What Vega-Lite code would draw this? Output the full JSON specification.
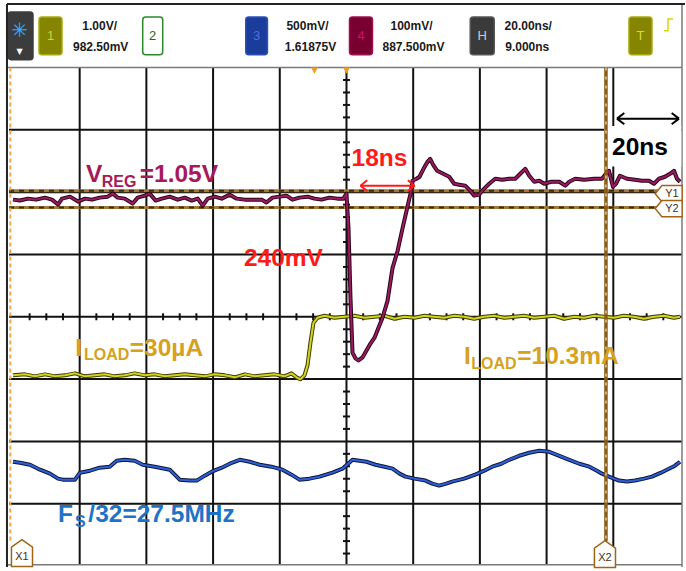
{
  "$schema": "https://vega.github.io/schema/vega-lite/v6.json",
  "width": 686,
  "height": 571,
  "autosize": {"type": "fit", "contains": "padding"},
  "padding": 0,
  "background": "white",
  "config": {"view": {"stroke": null}, "font": "Liberation Sans"},
  "datasets": {
    "ch4": [
      {"t": -100.0, "v": 1.880}, {"t": -97.9, "v": 1.865}, {"t": -95.5, "v": 1.896}, {"t": -93.1, "v": 1.880},
      {"t": -90.4, "v": 1.912}, {"t": -88.3, "v": 1.880}, {"t": -86.5, "v": 1.801}, {"t": -85.3, "v": 1.896},
      {"t": -82.9, "v": 1.928}, {"t": -80.5, "v": 1.849}, {"t": -78.4, "v": 1.896}, {"t": -76.3, "v": 1.880},
      {"t": -74.0, "v": 1.912}, {"t": -71.6, "v": 1.928}, {"t": -70.1, "v": 1.976}, {"t": -68.6, "v": 1.912},
      {"t": -66.5, "v": 1.896}, {"t": -64.1, "v": 1.817}, {"t": -62.6, "v": 1.912}, {"t": -60.5, "v": 1.944},
      {"t": -59.0, "v": 1.976}, {"t": -57.2, "v": 1.865}, {"t": -55.4, "v": 1.896}, {"t": -53.0, "v": 1.928},
      {"t": -50.6, "v": 1.880}, {"t": -48.5, "v": 1.912}, {"t": -46.4, "v": 1.865}, {"t": -44.6, "v": 1.896},
      {"t": -43.1, "v": 1.785}, {"t": -41.6, "v": 1.896}, {"t": -39.5, "v": 1.928}, {"t": -37.4, "v": 1.896},
      {"t": -35.0, "v": 1.960}, {"t": -32.9, "v": 1.896}, {"t": -30.5, "v": 1.880}, {"t": -27.5, "v": 1.880},
      {"t": -25.4, "v": 1.880}, {"t": -24.0, "v": 1.833}, {"t": -22.2, "v": 1.912}, {"t": -20.1, "v": 1.928},
      {"t": -18.0, "v": 1.944}, {"t": -16.2, "v": 1.880}, {"t": -14.1, "v": 1.912}, {"t": -11.7, "v": 1.928},
      {"t": -9.6, "v": 1.896}, {"t": -7.5, "v": 1.880}, {"t": -5.1, "v": 1.912}, {"t": -2.7, "v": 1.896},
      {"t": -0.9, "v": 1.896}, {"t": 0.0, "v": 1.976}, {"t": 0.6, "v": 1.418}, {"t": 1.2, "v": 0.303},
      {"t": 1.8, "v": -0.574}, {"t": 2.7, "v": -0.669}, {"t": 3.6, "v": -0.701}, {"t": 4.8, "v": -0.653},
      {"t": 6.0, "v": -0.542}, {"t": 7.2, "v": -0.430}, {"t": 8.4, "v": -0.335}, {"t": 9.6, "v": -0.175},
      {"t": 10.8, "v": -0.016}, {"t": 12.3, "v": 0.255}, {"t": 13.8, "v": 0.781}, {"t": 15.3, "v": 1.052},
      {"t": 16.8, "v": 1.418}, {"t": 18.3, "v": 1.769}, {"t": 19.2, "v": 1.976}, {"t": 19.8, "v": 2.183},
      {"t": 21.0, "v": 2.215}, {"t": 21.9, "v": 2.247}, {"t": 23.1, "v": 2.375}, {"t": 24.3, "v": 2.486},
      {"t": 25.1, "v": 2.534}, {"t": 26.0, "v": 2.438}, {"t": 27.2, "v": 2.343}, {"t": 29.0, "v": 2.295},
      {"t": 30.8, "v": 2.247}, {"t": 32.3, "v": 2.135}, {"t": 33.8, "v": 2.120}, {"t": 35.6, "v": 2.104},
      {"t": 37.1, "v": 2.024}, {"t": 38.3, "v": 1.944}, {"t": 39.8, "v": 1.960}, {"t": 40.7, "v": 2.024},
      {"t": 41.9, "v": 2.088}, {"t": 42.8, "v": 2.135}, {"t": 44.6, "v": 2.215}, {"t": 46.7, "v": 2.199},
      {"t": 48.8, "v": 2.215}, {"t": 50.6, "v": 2.215}, {"t": 52.1, "v": 2.295}, {"t": 53.6, "v": 2.375},
      {"t": 54.8, "v": 2.263}, {"t": 56.3, "v": 2.167}, {"t": 57.8, "v": 2.183}, {"t": 59.3, "v": 2.135},
      {"t": 61.4, "v": 2.167}, {"t": 63.8, "v": 2.167}, {"t": 65.6, "v": 2.104}, {"t": 66.8, "v": 2.167},
      {"t": 68.6, "v": 2.215}, {"t": 71.3, "v": 2.199}, {"t": 74.3, "v": 2.215}, {"t": 76.6, "v": 2.215},
      {"t": 77.8, "v": 2.295}, {"t": 78.7, "v": 2.343}, {"t": 79.9, "v": 2.088}, {"t": 80.8, "v": 2.135},
      {"t": 82.0, "v": 2.263}, {"t": 84.1, "v": 2.215}, {"t": 86.5, "v": 2.199}, {"t": 88.6, "v": 2.183},
      {"t": 90.7, "v": 2.183}, {"t": 92.2, "v": 2.135}, {"t": 93.7, "v": 2.215}, {"t": 95.5, "v": 2.247},
      {"t": 97.0, "v": 2.295}, {"t": 98.2, "v": 2.343}, {"t": 99.1, "v": 2.215}, {"t": 100.0, "v": 2.167}
    ],
    "ch1": [
      {"t": -100.0, "v": -0.940}, {"t": -96.4, "v": -0.924}, {"t": -93.4, "v": -0.956}, {"t": -90.4, "v": -0.924},
      {"t": -87.4, "v": -0.956}, {"t": -84.4, "v": -0.940}, {"t": -81.4, "v": -0.908}, {"t": -78.4, "v": -0.956},
      {"t": -75.4, "v": -0.940}, {"t": -72.5, "v": -0.924}, {"t": -69.5, "v": -0.956}, {"t": -66.5, "v": -0.940},
      {"t": -63.5, "v": -0.908}, {"t": -60.5, "v": -0.940}, {"t": -57.5, "v": -0.924}, {"t": -54.5, "v": -0.956},
      {"t": -51.5, "v": -0.940}, {"t": -48.5, "v": -0.924}, {"t": -45.5, "v": -0.940}, {"t": -42.5, "v": -0.956},
      {"t": -39.5, "v": -0.924}, {"t": -36.5, "v": -0.940}, {"t": -33.5, "v": -0.972}, {"t": -30.5, "v": -0.924},
      {"t": -27.5, "v": -0.956}, {"t": -24.6, "v": -0.940}, {"t": -21.6, "v": -0.924}, {"t": -18.6, "v": -0.956},
      {"t": -16.5, "v": -0.908}, {"t": -15.0, "v": -0.972}, {"t": -13.8, "v": -1.004}, {"t": -12.6, "v": -0.940},
      {"t": -11.7, "v": -0.781}, {"t": -10.8, "v": -0.414}, {"t": -9.9, "v": -0.096}, {"t": -8.7, "v": -0.016},
      {"t": -6.6, "v": 0.016}, {"t": -3.6, "v": -0.016}, {"t": -0.6, "v": 0}, {"t": 2.4, "v": 0.016},
      {"t": 5.4, "v": -0.016}, {"t": 8.4, "v": 0}, {"t": 11.4, "v": 0.016}, {"t": 14.4, "v": -0.032},
      {"t": 17.4, "v": 0}, {"t": 20.4, "v": -0.016}, {"t": 23.4, "v": 0.016}, {"t": 26.3, "v": 0},
      {"t": 29.3, "v": -0.016}, {"t": 32.3, "v": 0.016}, {"t": 35.3, "v": 0}, {"t": 38.3, "v": -0.032},
      {"t": 41.3, "v": 0}, {"t": 44.3, "v": 0.016}, {"t": 47.3, "v": -0.016}, {"t": 50.3, "v": 0},
      {"t": 53.3, "v": 0.016}, {"t": 56.3, "v": -0.016}, {"t": 59.3, "v": 0}, {"t": 62.3, "v": 0.016},
      {"t": 65.3, "v": -0.032}, {"t": 68.3, "v": 0}, {"t": 71.3, "v": -0.016}, {"t": 74.3, "v": 0.016},
      {"t": 77.2, "v": 0}, {"t": 80.2, "v": -0.016}, {"t": 83.2, "v": 0.016}, {"t": 86.2, "v": 0},
      {"t": 89.2, "v": -0.032}, {"t": 92.2, "v": 0}, {"t": 95.2, "v": 0.016}, {"t": 98.2, "v": -0.016},
      {"t": 100.0, "v": 0}
    ],
    "ch3": [
      {"t": -100.0, "v": -2.327}, {"t": -97.9, "v": -2.343}, {"t": -94.9, "v": -2.375}, {"t": -91.9, "v": -2.454},
      {"t": -88.9, "v": -2.518}, {"t": -86.5, "v": -2.598}, {"t": -85.0, "v": -2.614}, {"t": -81.4, "v": -2.614},
      {"t": -79.9, "v": -2.502}, {"t": -76.9, "v": -2.470}, {"t": -74.0, "v": -2.422}, {"t": -71.0, "v": -2.406},
      {"t": -68.9, "v": -2.311}, {"t": -66.5, "v": -2.295}, {"t": -63.5, "v": -2.311}, {"t": -61.1, "v": -2.375},
      {"t": -57.5, "v": -2.406}, {"t": -53.0, "v": -2.454}, {"t": -50.0, "v": -2.614}, {"t": -47.0, "v": -2.629},
      {"t": -44.9, "v": -2.629}, {"t": -42.5, "v": -2.550}, {"t": -40.4, "v": -2.486}, {"t": -37.4, "v": -2.422},
      {"t": -34.4, "v": -2.343}, {"t": -32.0, "v": -2.295}, {"t": -29.0, "v": -2.327}, {"t": -26.0, "v": -2.375},
      {"t": -22.5, "v": -2.406}, {"t": -19.2, "v": -2.454}, {"t": -16.5, "v": -2.534}, {"t": -14.1, "v": -2.614},
      {"t": -11.1, "v": -2.598}, {"t": -8.1, "v": -2.566}, {"t": -4.2, "v": -2.502}, {"t": -1.2, "v": -2.438},
      {"t": 1.8, "v": -2.295}, {"t": 3.9, "v": -2.311}, {"t": 6.0, "v": -2.327}, {"t": 8.7, "v": -2.375},
      {"t": 11.4, "v": -2.406}, {"t": 13.8, "v": -2.438}, {"t": 15.9, "v": -2.518}, {"t": 17.7, "v": -2.566},
      {"t": 20.4, "v": -2.598}, {"t": 23.7, "v": -2.629}, {"t": 25.7, "v": -2.677}, {"t": 27.8, "v": -2.709},
      {"t": 29.9, "v": -2.677}, {"t": 31.7, "v": -2.645}, {"t": 35.3, "v": -2.598}, {"t": 38.6, "v": -2.534},
      {"t": 41.3, "v": -2.470}, {"t": 43.7, "v": -2.406}, {"t": 46.4, "v": -2.359}, {"t": 48.8, "v": -2.295},
      {"t": 51.8, "v": -2.231}, {"t": 54.8, "v": -2.183}, {"t": 57.8, "v": -2.151}, {"t": 60.8, "v": -2.167},
      {"t": 63.8, "v": -2.231}, {"t": 66.8, "v": -2.295}, {"t": 69.8, "v": -2.359}, {"t": 72.8, "v": -2.406},
      {"t": 75.1, "v": -2.470}, {"t": 76.6, "v": -2.518}, {"t": 78.7, "v": -2.566}, {"t": 81.7, "v": -2.629},
      {"t": 84.1, "v": -2.645}, {"t": 86.5, "v": -2.629}, {"t": 89.2, "v": -2.598}, {"t": 91.6, "v": -2.566},
      {"t": 94.3, "v": -2.502}, {"t": 96.7, "v": -2.438}, {"t": 98.5, "v": -2.390}, {"t": 100.0, "v": -2.327}
    ]
  },
  "encoding": {
    "x": {"field": "t", "type": "quantitative", "scale": {"domain": [-103.89, 101.5], "nice": false, "zero": false}, "axis": null},
    "y": {"field": "v", "type": "quantitative", "scale": {"domain": [-4.016, 5.084], "nice": false, "zero": false}, "axis": null}
  },
  "layer": [
    {
      "data": {"values": [
        {"t": -101.5, "t2": -94.0, "v": 4.892, "v2": 4.127, "ch": "icon"},
        {"t": -92.2, "t2": -85.3, "v": 4.813, "v2": 4.207, "ch": "1"},
        {"t": -61.1, "t2": -55.1, "v": 4.813, "v2": 4.207, "ch": "2"},
        {"t": -30.2, "t2": -23.7, "v": 4.813, "v2": 4.207, "ch": "3"},
        {"t": 0.9, "t2": 7.8, "v": 4.813, "v2": 4.207, "ch": "4"},
        {"t": 37.1, "t2": 44.3, "v": 4.813, "v2": 4.207, "ch": "H"},
        {"t": 84.7, "t2": 91.6, "v": 4.813, "v2": 4.207, "ch": "T"}
      ]},
      "mark": {"type": "rect", "cornerRadius": 3, "strokeWidth": 1.5},
      "encoding": {
        "x2": {"field": "t2"},
        "y2": {"field": "v2"},
        "fill": {"field": "ch", "type": "nominal", "legend": null, "scale": {"domain": ["icon", "1", "2", "3", "4", "H", "T"], "range": ["#3c3c3c", "#858500", "#ffffff", "#1c3c9c", "#780030", "#3a3a3a", "#858500"]}},
        "stroke": {"field": "ch", "type": "nominal", "legend": null, "scale": {"domain": ["icon", "1", "2", "3", "4", "H", "T"], "range": ["#3c3c3c", "#a8a810", "#2a8a2a", "#2a50b8", "#a01050", "#555555", "#a8a810"]}}
      }
    },
    {
      "data": {"values": [
        {"t": -88.75, "v": 4.51, "label": "1"},
        {"t": -58.1, "v": 4.51, "label": "2"},
        {"t": -26.95, "v": 4.51, "label": "3"},
        {"t": 4.35, "v": 4.51, "label": "4"},
        {"t": 40.7, "v": 4.51, "label": "H"},
        {"t": 88.15, "v": 4.51, "label": "T"}
      ]},
      "mark": {"type": "text", "fontSize": 13, "align": "center", "baseline": "middle"},
      "encoding": {
        "text": {"field": "label"},
        "color": {"field": "label", "type": "nominal", "legend": null, "scale": {"domain": ["1", "2", "3", "4", "H", "T"], "range": ["#d0d040", "#1a6a1a", "#4a70e0", "#d01068", "#cccccc", "#d8d840"]}}
      }
    },
    {
      "data": {"values": [
        {"t": -74.0, "v": 4.669, "label": "1.00V/"},
        {"t": -73.7, "v": 4.335, "label": "982.50mV"},
        {"t": -11.7, "v": 4.669, "label": "500mV/"},
        {"t": -10.8, "v": 4.335, "label": "1.61875V"},
        {"t": 19.5, "v": 4.669, "label": "100mV/"},
        {"t": 20.1, "v": 4.335, "label": "887.500mV"},
        {"t": 54.5, "v": 4.669, "label": "20.00ns/"},
        {"t": 54.2, "v": 4.335, "label": "9.000ns"}
      ]},
      "mark": {"type": "text", "fontSize": 12, "fontWeight": "bold", "color": "#1a1a1a", "align": "center", "baseline": "middle"},
      "encoding": {"text": {"field": "label"}}
    },
    {
      "data": {"values": [{"t": -98.0, "v": 4.59, "label": "✳"}]},
      "mark": {"type": "text", "fontSize": 20, "color": "#3aa8ff", "align": "center", "baseline": "middle", "font": "DejaVu Sans"},
      "encoding": {"text": {"field": "label"}}
    },
    {
      "data": {"values": [{"t": -98.0, "v": 4.255, "label": "▼"}]},
      "mark": {"type": "text", "fontSize": 8, "color": "#ffffff", "align": "center", "baseline": "middle", "font": "DejaVu Sans"},
      "encoding": {"text": {"field": "label"}}
    },
    {
      "data": {"values": [
        {"t": 95.2, "v": 4.59, "o": 1}, {"t": 96.4, "v": 4.59, "o": 2},
        {"t": 96.4, "v": 4.781, "o": 3}, {"t": 97.9, "v": 4.781, "o": 4}
      ]},
      "mark": {"type": "line", "color": "#d8d800", "strokeWidth": 1.5},
      "encoding": {"order": {"field": "o"}}
    },
    {
      "data": {"values": [
        {"t": -80, "t2": -80, "v": 4, "v2": -3.98}, {"t": -60, "t2": -60, "v": 4, "v2": -3.98},
        {"t": -40, "t2": -40, "v": 4, "v2": -3.98}, {"t": -20, "t2": -20, "v": 4, "v2": -3.98},
        {"t": 0, "t2": 0, "v": 4, "v2": -3.98}, {"t": 20, "t2": 20, "v": 4, "v2": -3.98},
        {"t": 40, "t2": 40, "v": 4, "v2": -3.98}, {"t": 60, "t2": 60, "v": 4, "v2": -3.98},
        {"t": 80, "t2": 80, "v": 4, "v2": -3.98},
        {"t": -101.2, "t2": 100.6, "v": 3, "v2": 3}, {"t": -101.2, "t2": 100.6, "v": 2, "v2": 2},
        {"t": -101.2, "t2": 100.6, "v": 1, "v2": 1}, {"t": -101.2, "t2": 100.6, "v": 0, "v2": 0},
        {"t": -101.2, "t2": 100.6, "v": -1, "v2": -1}, {"t": -101.2, "t2": 100.6, "v": -2, "v2": -2},
        {"t": -101.2, "t2": 100.6, "v": -3, "v2": -3}
      ]},
      "mark": {"type": "rule", "color": "#111111", "strokeWidth": 2},
      "encoding": {"x2": {"field": "t2"}, "y2": {"field": "v2"}}
    },
    {
      "data": {"values": [
        {"t": -95, "v": 0}, {"t": -90, "v": 0}, {"t": -85, "v": 0}, {"t": -75, "v": 0}, {"t": -70, "v": 0},
        {"t": -65, "v": 0}, {"t": -55, "v": 0}, {"t": -50, "v": 0}, {"t": -45, "v": 0}, {"t": -35, "v": 0},
        {"t": -30, "v": 0}, {"t": -25, "v": 0}, {"t": -15, "v": 0}, {"t": -10, "v": 0}, {"t": -5, "v": 0},
        {"t": 5, "v": 0}, {"t": 10, "v": 0}, {"t": 15, "v": 0}, {"t": 25, "v": 0}, {"t": 30, "v": 0},
        {"t": 35, "v": 0}, {"t": 45, "v": 0}, {"t": 50, "v": 0}, {"t": 55, "v": 0}, {"t": 65, "v": 0},
        {"t": 70, "v": 0}, {"t": 75, "v": 0}, {"t": 85, "v": 0}, {"t": 90, "v": 0}, {"t": 95, "v": 0}
      ]},
      "mark": {"type": "tick", "orient": "vertical", "size": 7, "thickness": 2, "color": "#111111", "opacity": 1},
      "encoding": {}
    },
    {
      "data": {"values": [
        {"t": 0, "v": 3.8}, {"t": 0, "v": 3.6}, {"t": 0, "v": 3.4}, {"t": 0, "v": 3.2},
        {"t": 0, "v": 2.8}, {"t": 0, "v": 2.6}, {"t": 0, "v": 2.4}, {"t": 0, "v": 2.2},
        {"t": 0, "v": 1.8}, {"t": 0, "v": 1.6}, {"t": 0, "v": 1.4}, {"t": 0, "v": 1.2},
        {"t": 0, "v": 0.8}, {"t": 0, "v": 0.6}, {"t": 0, "v": 0.4}, {"t": 0, "v": 0.2},
        {"t": 0, "v": -0.2}, {"t": 0, "v": -0.4}, {"t": 0, "v": -0.6}, {"t": 0, "v": -0.8},
        {"t": 0, "v": -1.2}, {"t": 0, "v": -1.4}, {"t": 0, "v": -1.6}, {"t": 0, "v": -1.8},
        {"t": 0, "v": -2.2}, {"t": 0, "v": -2.4}, {"t": 0, "v": -2.6}, {"t": 0, "v": -2.8},
        {"t": 0, "v": -3.2}, {"t": 0, "v": -3.4}, {"t": 0, "v": -3.6}, {"t": 0, "v": -3.8}
      ]},
      "mark": {"type": "tick", "orient": "horizontal", "size": 7, "thickness": 2, "color": "#111111", "opacity": 1},
      "encoding": {}
    },
    {
      "data": {"values": [
        {"t": -101.8, "t2": 100.6, "v": 4, "v2": 4},
        {"t": -101.8, "t2": 100.6, "v": -3.98, "v2": -3.98},
        {"t": 100.6, "t2": 100.6, "v": 5.02, "v2": -4.016}
      ]},
      "mark": {"type": "rule", "color": "#7a7a7a", "strokeWidth": 1.5},
      "encoding": {"x2": {"field": "t2"}, "y2": {"field": "v2"}}
    },
    {
      "data": {"values": [
        {"t": -101.8, "t2": 101.5, "v": 5.02, "v2": 5.02},
        {"t": -101.8, "t2": -101.8, "v": 5.02, "v2": -4.016}
      ]},
      "mark": {"type": "rule", "color": "#222222", "strokeWidth": 2},
      "encoding": {"x2": {"field": "t2"}, "y2": {"field": "v2"}}
    },
    {
      "data": {"values": [
        {"t": -101.2, "t2": 93.5, "v": 2.024, "v2": 2.024},
        {"t": -101.2, "t2": 93.5, "v": 1.753, "v2": 1.753}
      ]},
      "mark": {"type": "rule", "color": "#a07838", "strokeWidth": 3},
      "encoding": {"x2": {"field": "t2"}, "y2": {"field": "v2"}}
    },
    {
      "data": {"values": [
        {"t": -101.2, "t2": 93.5, "v": 2.024, "v2": 2.024},
        {"t": -101.2, "t2": 93.5, "v": 1.753, "v2": 1.753}
      ]},
      "mark": {"type": "rule", "color": "#3a2810", "strokeWidth": 2, "strokeDash": [5, 5]},
      "encoding": {"x2": {"field": "t2"}, "y2": {"field": "v2"}}
    },
    {
      "data": {"values": [{"t": -100.8, "t2": -100.8, "v": 4, "v2": -3.6}]},
      "mark": {"type": "rule", "color": "#f0a848", "strokeWidth": 2, "strokeDash": [4, 3]},
      "encoding": {"x2": {"field": "t2"}, "y2": {"field": "v2"}}
    },
    {
      "data": {"name": "ch3"},
      "mark": {"type": "line", "color": "#0e1838", "strokeWidth": 4, "strokeJoin": "round"},
      "encoding": {}
    },
    {
      "data": {"name": "ch3"},
      "mark": {"type": "line", "color": "#2f5fd8", "strokeWidth": 2, "strokeJoin": "round"},
      "encoding": {}
    },
    {
      "data": {"name": "ch1"},
      "mark": {"type": "line", "color": "#3c3c00", "strokeWidth": 4, "strokeJoin": "round"},
      "encoding": {}
    },
    {
      "data": {"name": "ch1"},
      "mark": {"type": "line", "color": "#d4d41e", "strokeWidth": 2, "strokeJoin": "round"},
      "encoding": {}
    },
    {
      "data": {"name": "ch4"},
      "mark": {"type": "line", "color": "#2a0618", "strokeWidth": 4, "strokeJoin": "round"},
      "encoding": {}
    },
    {
      "data": {"name": "ch4"},
      "mark": {"type": "line", "color": "#9a1a62", "strokeWidth": 2, "strokeJoin": "round"},
      "encoding": {}
    },
    {
      "data": {"values": [{"t": 77.2, "t2": 100.4, "v": 3.06, "v2": 2.41}]},
      "mark": {"type": "rect", "color": "#ffffff"},
      "encoding": {"x2": {"field": "t2"}, "y2": {"field": "v2"}}
    },
    {
      "data": {"values": [{"t": 77.8, "t2": 77.8, "v": 4, "v2": -3.6}]},
      "mark": {"type": "rule", "color": "#8c5c14", "strokeWidth": 3.5},
      "encoding": {"x2": {"field": "t2"}, "y2": {"field": "v2"}}
    },
    {
      "data": {"values": [{"t": 77.8, "t2": 77.8, "v": 4, "v2": -3.6}]},
      "mark": {"type": "rule", "color": "#ffffff", "strokeWidth": 1, "strokeDash": [3, 6]},
      "encoding": {"x2": {"field": "t2"}, "y2": {"field": "v2"}}
    },
    {
      "data": {"values": [{"t": -97.3, "v": -3.793}, {"t": 77.5, "v": -3.809}]},
      "mark": {"type": "point", "shape": "M-0.78,1L-0.78,-0.45L0,-1L0.78,-0.45L0.78,1Z", "size": 729, "filled": true, "fill": "#ffffff", "stroke": "#a06418", "strokeWidth": 1.5, "opacity": 1},
      "encoding": {}
    },
    {
      "data": {"values": [{"t": 96.6, "v": 1.976}, {"t": 96.6, "v": 1.737}]},
      "mark": {"type": "point", "shape": "M-1,0L-0.5,-0.6L1,-0.6L1,0.6L-0.5,0.6Z", "size": 729, "filled": true, "fill": "#ffffff", "stroke": "#a06418", "strokeWidth": 1.5, "opacity": 1},
      "encoding": {}
    },
    {
      "data": {"values": [
        {"t": -97.3, "v": -3.857, "label": "X1"},
        {"t": 77.5, "v": -3.873, "label": "X2"},
        {"t": 97.6, "v": 1.976, "label": "Y1"},
        {"t": 97.6, "v": 1.737, "label": "Y2"}
      ]},
      "mark": {"type": "text", "fontSize": 11, "color": "#4a3010", "align": "center", "baseline": "middle"},
      "encoding": {"text": {"field": "label"}}
    },
    {
      "data": {"values": [{"t": -9.6, "v": 3.95}, {"t": 0, "v": 3.95}]},
      "mark": {"type": "point", "shape": "triangle-down", "size": 50, "filled": true, "color": "#f0a020", "opacity": 1},
      "encoding": {}
    },
    {
      "data": {"values": [
        {"t": 4.2, "t2": 20.4, "v": 2.104, "v2": 2.104},
        {"t": 4.2, "t2": 6.2, "v": 2.104, "v2": 2.19},
        {"t": 4.2, "t2": 6.2, "v": 2.104, "v2": 2.018},
        {"t": 20.4, "t2": 18.4, "v": 2.104, "v2": 2.19},
        {"t": 20.4, "t2": 18.4, "v": 2.104, "v2": 2.018}
      ]},
      "mark": {"type": "rule", "color": "#ff1a1a", "strokeWidth": 2},
      "encoding": {"x2": {"field": "t2"}, "y2": {"field": "v2"}}
    },
    {
      "data": {"values": [
        {"t": 81.1, "t2": 99.7, "v": 3.18, "v2": 3.18},
        {"t": 81.1, "t2": 83.3, "v": 3.18, "v2": 3.27},
        {"t": 81.1, "t2": 83.3, "v": 3.18, "v2": 3.09},
        {"t": 99.7, "t2": 97.5, "v": 3.18, "v2": 3.27},
        {"t": 99.7, "t2": 97.5, "v": 3.18, "v2": 3.09}
      ]},
      "mark": {"type": "rule", "color": "#000000", "strokeWidth": 2},
      "encoding": {"x2": {"field": "t2"}, "y2": {"field": "v2"}}
    },
    {
      "data": {"values": [
        {"t": -78.1, "v": 2.167, "label": "V"},
        {"t": -62.0, "v": 2.167, "label": "=1.05V"}
      ]},
      "mark": {"type": "text", "fontSize": 24.5, "fontWeight": "bold", "color": "#a8195a", "align": "left", "baseline": "alphabetic"},
      "encoding": {"text": {"field": "label"}}
    },
    {
      "data": {"values": [{"t": -73.4, "v": 2.088, "label": "REG"}]},
      "mark": {"type": "text", "fontSize": 16, "fontWeight": "bold", "color": "#a8195a", "align": "left", "baseline": "alphabetic"},
      "encoding": {"text": {"field": "label"}}
    },
    {
      "data": {"values": [
        {"t": -81.3, "v": -0.622, "label": "I"},
        {"t": -65.0, "v": -0.622, "label": "=30µA"},
        {"t": 35.2, "v": -0.765, "label": "I"},
        {"t": 51.2, "v": -0.765, "label": "=10.3mA"}
      ]},
      "mark": {"type": "text", "fontSize": 24.5, "fontWeight": "bold", "color": "#d6a21e", "align": "left", "baseline": "alphabetic"},
      "encoding": {"text": {"field": "label"}}
    },
    {
      "data": {"values": [
        {"t": -78.7, "v": -0.701, "label": "LOAD"},
        {"t": 37.4, "v": -0.845, "label": "LOAD"}
      ]},
      "mark": {"type": "text", "fontSize": 16, "fontWeight": "bold", "color": "#d6a21e", "align": "left", "baseline": "alphabetic"},
      "encoding": {"text": {"field": "label"}}
    },
    {
      "data": {"values": [
        {"t": -86.5, "v": -3.299, "label": "F"},
        {"t": -77.4, "v": -3.299, "label": "/32=27.5MHz"}
      ]},
      "mark": {"type": "text", "fontSize": 24.5, "fontWeight": "bold", "color": "#1f73c6", "align": "left", "baseline": "alphabetic"},
      "encoding": {"text": {"field": "label"}}
    },
    {
      "data": {"values": [{"t": -81.4, "v": -3.378, "label": "S"}]},
      "mark": {"type": "text", "fontSize": 16, "fontWeight": "bold", "color": "#1f73c6", "align": "left", "baseline": "alphabetic"},
      "encoding": {"text": {"field": "label"}}
    },
    {
      "data": {"values": [
        {"t": 9.9, "v": 2.422, "label": "18ns"},
        {"t": -18.9, "v": 0.813, "label": "240mV"}
      ]},
      "mark": {"type": "text", "fontSize": 24.5, "fontWeight": "bold", "color": "#ff1a1a", "align": "center", "baseline": "alphabetic"},
      "encoding": {"text": {"field": "label"}}
    },
    {
      "data": {"values": [{"t": 88.0, "v": 2.598, "label": "20ns"}]},
      "mark": {"type": "text", "fontSize": 24.5, "fontWeight": "bold", "color": "#000000", "align": "center", "baseline": "alphabetic"},
      "encoding": {"text": {"field": "label"}}
    }
  ]
}
